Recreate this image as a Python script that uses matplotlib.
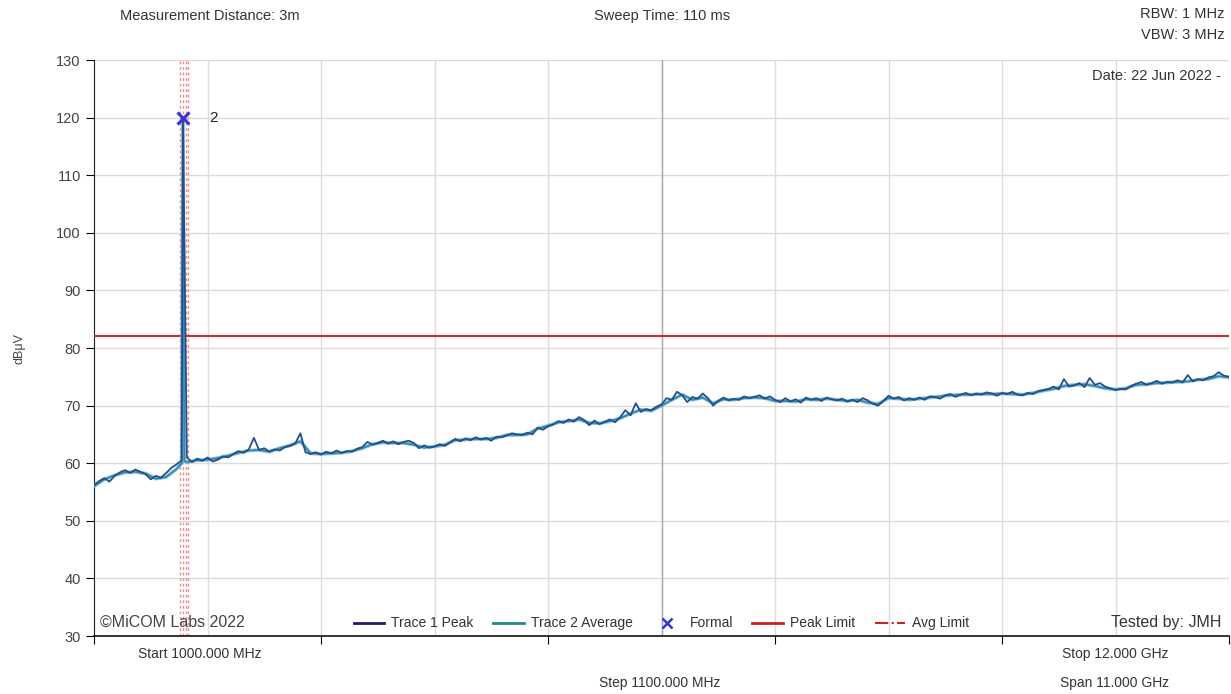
import matplotlib as mpl
mpl.use('agg')
import matplotlib.pyplot as plt
from matplotlib.lines import Line2D
import numpy as np

plt.rcParams['font.family'] = ['Liberation Sans', 'DejaVu Sans']

# frequency grid (MHz) for the two traces
freq1 = np.arange(1000, 12001, 50)
freq2 = np.arange(1000, 12001, 100)

# Trace 1 Peak (dBuV), 50 MHz step
peak_vals = [
    56.2, 56.9, 57.4, 56.8, 57.8, 58.4, 58.8, 58.3, 58.9, 58.5,
    58.1, 57.2, 57.8, 57.5, 58.3, 59.2, 59.8, 60.5, 61.0, 60.2,
    60.8, 60.4, 61.0, 60.3, 60.6, 61.2, 61.0, 61.6, 62.1, 61.8,
    62.4, 64.4, 62.3, 62.6, 62.0, 62.4, 62.2, 62.8, 63.0, 63.4,
    65.2, 61.9, 61.6, 61.9, 61.5, 62.0, 61.7, 62.2, 61.8, 62.1,
    62.0, 62.5, 62.8, 63.7, 63.2, 63.5, 63.9, 63.4, 63.8, 63.3,
    63.7, 63.9, 63.5, 62.6, 63.1, 62.7, 62.9, 63.3, 63.0, 63.6,
    64.2, 63.8, 64.3, 64.0, 64.5, 64.1, 64.4, 63.9, 64.6, 64.5,
    64.8, 65.2, 65.0, 64.9, 65.3, 65.0, 66.2, 65.8, 66.4, 66.7,
    67.3, 67.0, 67.6, 67.2, 68.0, 67.5, 66.6, 67.4, 66.8, 67.2,
    67.6, 67.1, 68.0, 69.2, 68.3, 70.4, 68.9, 69.4, 69.2, 69.8,
    70.2, 71.3, 71.0, 72.4, 71.8, 70.6, 71.5, 71.2, 72.1, 71.3,
    70.0, 70.8, 71.4, 70.9, 71.2, 71.0, 71.6, 71.3, 71.5, 71.8,
    71.2, 71.6, 71.0, 70.6, 71.3, 70.7, 71.1, 70.5, 71.4, 71.0,
    71.3, 70.8, 71.4, 71.1, 70.9, 71.2, 70.7, 71.0, 70.6, 71.3,
    70.9, 70.3, 70.0, 70.8, 71.7, 71.2, 71.5, 70.9, 71.3, 71.0,
    71.4, 71.0, 71.6, 71.5, 71.2, 71.8, 72.0, 71.5, 71.9, 72.2,
    71.8, 72.1, 71.9, 72.3, 72.1, 71.7, 72.2, 72.0, 72.4, 71.9,
    71.8, 72.2, 72.0, 72.5, 72.7, 72.9, 73.3, 72.8, 74.6, 73.3,
    73.5, 73.9, 73.2, 74.8, 73.6, 73.9, 73.3, 73.0, 72.7, 72.9,
    72.8, 73.4, 73.8, 74.1, 73.6, 73.9, 74.3, 73.8, 74.1, 74.0,
    74.4, 74.0, 75.3, 74.2, 74.6, 74.4, 74.9, 75.1, 75.8, 75.2,
    75.0,
]

# Trace 2 Average (dBuV), 100 MHz step
avg_vals = [
    56.0, 57.2, 57.9, 58.4, 58.5, 58.2, 57.3, 57.6, 59.0, 60.2,
    60.5, 60.6, 60.9, 61.3, 61.8, 62.2, 62.3, 62.0, 62.6, 63.1,
    63.8, 61.7, 61.6, 61.7, 61.8, 62.1, 62.6, 63.3, 63.6, 63.5,
    63.5, 63.2, 62.7, 62.9, 63.2, 64.0, 64.1, 64.2, 64.2, 64.4,
    64.9, 64.9, 65.0, 66.0, 66.5, 67.1, 67.3, 67.6, 67.0, 66.9,
    67.3, 67.8, 68.6, 69.3, 69.1, 70.0, 71.0, 71.9, 71.0, 71.4,
    70.4, 71.1, 71.0, 71.3, 71.4, 71.3, 70.8, 70.8, 70.7, 71.1,
    71.0, 71.2, 71.0, 70.8, 71.0, 70.5, 70.3, 71.3, 71.2, 71.0,
    71.2, 71.4, 71.6, 71.8, 71.9, 71.9, 72.0, 72.0, 72.1, 72.0,
    71.9, 72.2, 72.6, 72.9, 73.4, 73.6, 73.7, 73.4, 73.0, 72.8,
    73.0, 73.6, 73.7, 73.9, 74.0, 74.1, 74.2, 74.5, 74.6, 75.1,
    74.9,
]

# carrier spike
spike1_f = [1862]
spike1_v = [120.0]
spike2_f = [1850, 1862, 1875]
spike2_v = [60.0, 119.5, 60.4]

marker_f = 1862
marker_v = 120.0
marker_label = '2'

band_edges = [1833, 1860, 1889, 1914]
peak_limit = 82.1

f1 = np.concatenate([freq1, spike1_f])
v1 = np.concatenate([peak_vals, spike1_v])
o1 = np.argsort(f1, kind='stable')
f2 = np.concatenate([freq2, spike2_f])
v2 = np.concatenate([avg_vals, spike2_v])
o2 = np.argsort(f2, kind='stable')

fig = plt.figure(figsize=(12.31, 6.94), dpi=100)
ax = fig.add_axes([94 / 1231, 1 - 636 / 694, (1229 - 94) / 1231, 576 / 694])

txt = '#333333'
grid_c = '#dcdcdc'

ax.set_xlim(1000, 12000)
ax.set_ylim(30, 130)
ax.set_yticks(np.arange(30, 131, 10))
ax.set_xticks(np.arange(1000, 12001, 2200))
ax.set_xticks(np.arange(2100, 12001, 2200), minor=True)
ax.set_xticklabels([])
ax.tick_params(axis='x', which='major', length=6, color='black', direction='out')
ax.tick_params(axis='x', which='minor', length=0)
ax.tick_params(axis='y', length=6, color='black', labelcolor='#444444', labelsize=10.5)
ax.grid(True, axis='x', which='both', color=grid_c, lw=1)
ax.grid(True, axis='y', which='major', color=grid_c, lw=1)
ax.axvline(6500, color='#a8a8a8', lw=1, zorder=1)
for s in ['top', 'right']:
    ax.spines[s].set_visible(False)
ax.spines['left'].set_color('#222222')
ax.spines['bottom'].set_color('#111111')
ax.spines['bottom'].set_linewidth(1.2)
ax.set_axisbelow(True)

for fe in band_edges:
    ax.axvline(fe, color='#f08a8a', lw=1, ls=(0, (2, 2)), zorder=2)

ax.axhline(peak_limit, color='#d42a2a', lw=1.5, zorder=3)

ax.plot(f2[o2], v2[o2], color='#6fb3d6', lw=2.6, alpha=0.8, zorder=4)
ax.plot(f2[o2], v2[o2], color='#2f8aa8', lw=1.2, zorder=4)
ax.plot(f1[o1], v1[o1], color='#244f8a', lw=1.3, zorder=5)
ax.plot([marker_f], [marker_v], marker='x', color='#3535d8', ms=9, mew=2.2, ls='none', zorder=6)
ax.annotate(marker_label, (marker_f, marker_v), xytext=(19, 0), textcoords='offset points',
            va='center', ha='left', fontsize=11, color='#222222')

ax.set_ylabel('dBμV', fontsize=9, color='#444444', labelpad=22)

# legend
handles = [
    Line2D([], [], color='#1a1a70', lw=2),
    Line2D([], [], color='#1e8a8a', lw=2),
    Line2D([], [], color='#3535d8', marker='x', ls='none', ms=7, mew=1.8),
    Line2D([], [], color='#cc2020', lw=2),
    Line2D([], [], color='#cc2020', lw=1.5, ls='-.'),
]
labels = ['Trace 1 Peak', 'Trace 2 Average', 'Formal', 'Peak Limit', 'Avg Limit']
ax.legend(handles, labels, loc='lower center', bbox_to_anchor=(0.5, -0.012), ncol=5,
          frameon=False, fontsize=10, handlelength=2.2, handletextpad=0.5,
          columnspacing=1.4, labelcolor=txt)

ax.text(0.005, 0.01, '©MiCOM Labs 2022', transform=ax.transAxes, fontsize=11.5,
        color='#444444', ha='left', va='bottom')
ax.text(0.993, 0.01, 'Tested by: JMH', transform=ax.transAxes, fontsize=11.5,
        color=txt, ha='right', va='bottom')
ax.text(0.993, 0.985, 'Date: 22 Jun 2022 -', transform=ax.transAxes, fontsize=10.5,
        color=txt, ha='right', va='top')

fig.text(210 / 1231, 1 - 16 / 694, 'Measurement Distance: 3m', fontsize=10.5, color=txt,
         ha='center', va='center')
fig.text(662 / 1231, 1 - 16 / 694, 'Sweep Time: 110 ms', fontsize=10.5, color=txt,
         ha='center', va='center')
fig.text(1225 / 1231, 1 - 14 / 694, 'RBW: 1 MHz', fontsize=10.5, color=txt,
         ha='right', va='center')
fig.text(1225 / 1231, 1 - 35 / 694, 'VBW: 3 MHz', fontsize=10.5, color=txt,
         ha='right', va='center')
fig.text(200 / 1231, 1 - 654 / 694, 'Start 1000.000 MHz', fontsize=10, color=txt,
         ha='center', va='center')
fig.text(660 / 1231, 1 - 683 / 694, 'Step 1100.000 MHz', fontsize=10, color=txt,
         ha='center', va='center')
fig.text(1115 / 1231, 1 - 654 / 694, 'Stop 12.000 GHz', fontsize=10, color=txt,
         ha='center', va='center')
fig.text(1115 / 1231, 1 - 683 / 694, 'Span 11.000 GHz', fontsize=10, color=txt,
         ha='center', va='center')

fig.savefig('out.png', dpi=100)
plt.close(fig)
